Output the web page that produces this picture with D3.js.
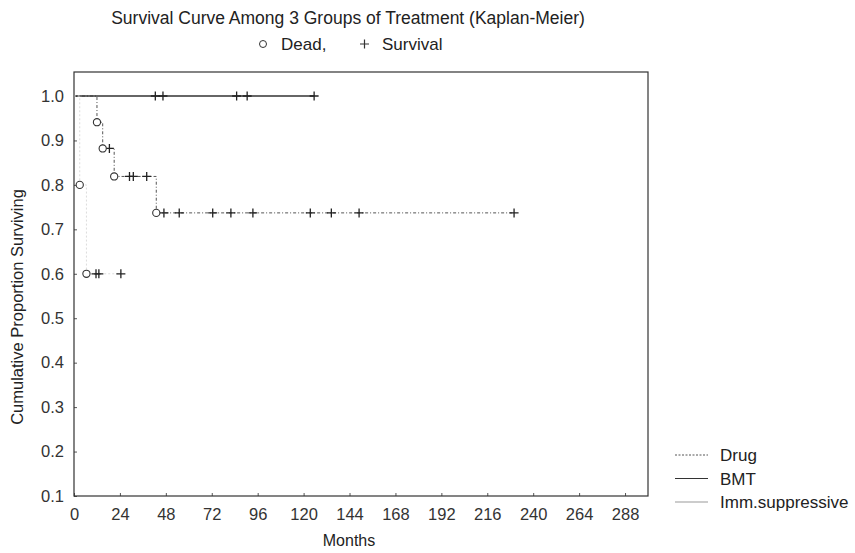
<!DOCTYPE html>
<html>
<head>
<meta charset="utf-8">
<script src="https://cdn.jsdelivr.net/npm/d3@7"></script>
<style>
  body { margin: 0; background: #fff; }
  svg { font-family: "Liberation Sans", Arial, sans-serif; fill: #222; }
  .tick text { font-size: 16.5px; fill: #333; }
</style>
</head>
<body>
<div id="chart"></div>
<script>
// months & survival
const xTicks = [0, 24, 48, 72, 96, 120, 144, 168, 192, 216, 240, 264, 288];
const yTicks = [0.1, 0.2, 0.3, 0.4, 0.5, 0.6, 0.7, 0.8, 0.9, 1.0];

const drugDeathMonths = [12, 15, 21, 43];
const drugDeathSurv   = [0.941, 0.882, 0.819, 0.737];
const drugCensorMonths = [18.5, 29, 31, 38, 47, 55, 72.5, 82, 93.5, 123.5, 134.5, 149, 230];

const bmtDeathMonths = [];
const bmtDeathSurv   = [];
const bmtCensorMonths = [42.5, 46.5, 85, 90.5, 125.5];

const immDeathMonths = [3, 6.5];
const immDeathSurv   = [0.8, 0.6];
const immCensorMonths = [11.5, 13, 24.5];

const groups = [
  { name: 'Drug', deaths: drugDeathMonths, surv: drugDeathSurv, censors: drugCensorMonths,
    stroke: '#555', width: 1, dash: '3,2,1,2' },
  { name: 'BMT', deaths: bmtDeathMonths, surv: bmtDeathSurv, censors: bmtCensorMonths,
    stroke: '#333', width: 1.4, dash: null },
  { name: 'Imm.suppressive', deaths: immDeathMonths, surv: immDeathSurv, censors: immCensorMonths,
    stroke: '#dcdcdc', width: 1, dash: '2,2' }
];

const W = 855, H = 553;
const svg = d3.select('#chart').append('svg')
  .attr('width', W).attr('height', H);

const x = d3.scaleLinear().domain([0, 300]).range([74, 648]);
const y = d3.scaleLinear().domain([0.1, 1.054]).range([496, 72]);

// survival level at time t (step lookup)
function survAt(g, t) {
  let s = 1;
  g.deaths.forEach((d, i) => { if (d <= t) s = g.surv[i]; });
  return s;
}

// axes
svg.append('g')
  .attr('transform', 'translate(0,496)')
  .call(d3.axisBottom(x).tickValues(xTicks).tickSize(-3).tickPadding(12))
  .call(g => g.select('.domain').remove())
  .call(g => g.selectAll('line').attr('stroke', '#555'));

svg.append('g')
  .attr('transform', 'translate(74,0)')
  .call(d3.axisLeft(y).tickValues(yTicks).tickFormat(d3.format('.1f')).tickSize(-3).tickPadding(10))
  .call(g => g.select('.domain').remove())
  .call(g => g.selectAll('line').attr('stroke', '#555'));

// frame
svg.append('rect')
  .attr('x', 74).attr('y', 72)
  .attr('width', 648 - 74).attr('height', 496 - 72)
  .attr('fill', 'none').attr('stroke', '#333').attr('stroke-width', 1.2);

// curves
const line = d3.line().x(d => x(d[0])).y(d => y(d[1])).curve(d3.curveStepAfter);

groups.forEach(g => {
  const lastT = d3.max(g.deaths.concat(g.censors));
  const pts = [[0, 1]];
  g.deaths.forEach((d, i) => pts.push([d, g.surv[i]]));
  pts.push([lastT, survAt(g, lastT)]);

  svg.append('path')
    .attr('d', line(pts))
    .attr('fill', 'none')
    .attr('stroke', g.stroke)
    .attr('stroke-width', g.width)
    .attr('stroke-dasharray', g.dash);

  svg.selectAll(null).data(g.censors).enter().append('path')
    .attr('transform', d => `translate(${x(d)},${y(survAt(g, d))})`)
    .attr('d', 'M-4.5,0H4.5M0,-4.5V4.5')
    .attr('stroke', '#222').attr('stroke-width', 1.3);

  svg.selectAll(null).data(g.deaths).enter().append('circle')
    .attr('cx', d => x(d))
    .attr('cy', (d, i) => y(g.surv[i]))
    .attr('r', 3.6)
    .attr('fill', '#fff').attr('stroke', '#333').attr('stroke-width', 1.1);
});

// titles
svg.append('text')
  .attr('x', 348).attr('y', 24)
  .attr('text-anchor', 'middle').attr('font-size', 17.5)
  .text('Survival Curve Among 3 Groups of Treatment (Kaplan-Meier)');

const sub = svg.append('g').attr('font-size', 17);
sub.append('circle').attr('cx', 263).attr('cy', 44).attr('r', 3.5)
  .attr('fill', 'none').attr('stroke', '#333').attr('stroke-width', 1);
sub.append('text').attr('x', 281).attr('y', 50).text('Dead,');
sub.append('path').attr('d', 'M360,44H369M364.5,39.5V48.5').attr('stroke', '#333').attr('stroke-width', 1.2);
sub.append('text').attr('x', 382).attr('y', 50).text('Survival');

svg.append('text')
  .attr('x', 349).attr('y', 546)
  .attr('text-anchor', 'middle').attr('font-size', 16)
  .text('Months');

svg.append('text')
  .attr('transform', 'translate(23,307) rotate(-90)')
  .attr('text-anchor', 'middle').attr('font-size', 16.5)
  .text('Cumulative Proportion Surviving');

// legend
const leg = svg.append('g').attr('font-size', 17);
groups.forEach((g, i) => {
  const ly = 455 + i * 23.5;
  leg.append('line')
    .attr('x1', 675).attr('x2', 708).attr('y1', ly).attr('y2', ly)
    .attr('stroke', i === 2 ? '#999' : g.stroke).attr('stroke-width', 1)
    .attr('stroke-dasharray', i === 0 ? '2,1.5' : null);
  leg.append('text').attr('x', 720).attr('y', ly + 6).text(g.name);
});
</script>
</body>
</html>
